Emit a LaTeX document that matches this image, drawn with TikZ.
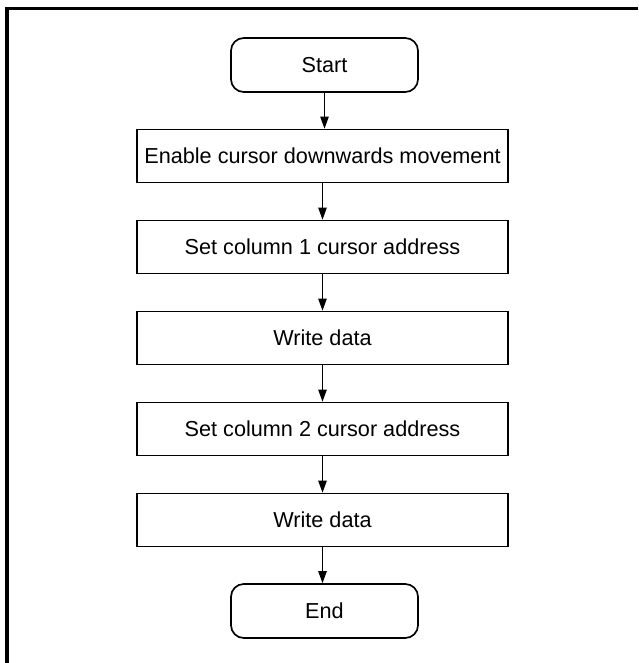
\documentclass[tikz,border=0pt]{standalone}
\usepackage{fontspec}
\setmainfont{Liberation Sans}
\usetikzlibrary{arrows.meta}
\begin{document}
\begin{tikzpicture}[x=0.025cm,y=-0.025cm,>={Triangle[width=6pt,length=8.5pt]},
  stepbox/.style={draw,line width=1.2pt,minimum width=9.275cm,minimum height=1.325cm,inner sep=0pt,font=\fontsize{15.4}{18}\selectfont},
  termbox/.style={stepbox,rounded corners=0.32cm,minimum width=4.675cm,minimum height=1.35cm}]
\useasboundingbox (0,0) rectangle (638,663);
\draw[line width=2.2pt] (7,663)--(7,8.5)--(638,8.5);
\node[termbox] (start) at (324.5,65) {Start};
\node[stepbox] (enable) at (322.5,156) {Enable cursor downwards movement};
\node[stepbox] (col1) at (322.5,247) {Set column 1 cursor address};
\node[stepbox] (write1) at (322.5,338) {Write data};
\node[stepbox] (col2) at (322.5,429) {Set column 2 cursor address};
\node[stepbox] (write2) at (322.5,520) {Write data};
\node[termbox] (end) at (324.5,611) {End};
\draw[->,line width=0.7pt] (start.south)--(start.south|-enable.north);
\draw[->,line width=0.7pt] (enable)--(col1);
\draw[->,line width=0.7pt] (col1)--(write1);
\draw[->,line width=0.7pt] (write1)--(col2);
\draw[->,line width=0.7pt] (col2)--(write2);
\draw[->,line width=0.7pt] (write2.south)--(write2.south|-end.north);
\end{tikzpicture}
\end{document}
